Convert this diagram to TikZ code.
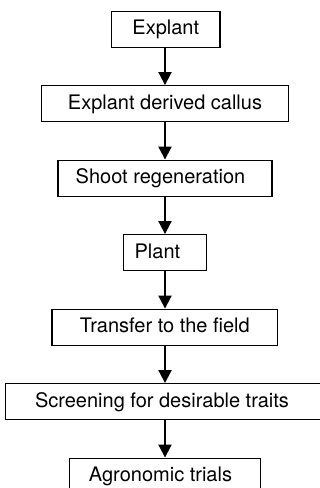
\documentclass[tikz,border=0pt]{standalone}
\usepackage{fontspec}
\setmainfont{TeX Gyre Heros}
\usetikzlibrary{arrows.meta}

\tikzset{
  stage/.style={draw=black, line width=1.3pt, rectangle, inner sep=0pt,
    minimum height=36pt, text height=15.4pt, text depth=4.2pt,
    font=\fontsize{20pt}{24pt}\selectfont},
  flow/.style={line width=2pt, -{Triangle[width=13pt,length=13pt]}},
}

\begin{document}
\begin{tikzpicture}[x=1pt,y=-1pt]
  \useasboundingbox (0,0) rectangle (320,488);
  \clip (0,0) rectangle (320,488);

  % stages of the regeneration scheme, top to bottom
  \node[stage, minimum width=108.3pt] (explant)   at (165.8,29.2)  {Explant};
  \node[stage, minimum width=247pt]   (callus)    at (165,103.7)   {Explant derived callus};
  \node[stage, minimum width=214pt]   (shoot)     at (165,178.2)   {Shoot regeneration\hspace*{9pt}};
  \node[stage, minimum width=82.8pt]  (plant)     at (164.9,252.7) {Plant\hspace*{15pt}};
  \node[stage, minimum width=225.7pt] (field)     at (164.85,327.2){Transfer to the field};
  \node[stage, minimum width=318.6pt] (screening) at (165,401.7)   {Screening for desirable traits\hspace*{6pt}};
  \node[stage, minimum width=191.4pt] (trials)    at (165,476.2)   {Agronomic trials\hspace*{9pt}};

  % downward arrows between consecutive stages
  \draw[flow] (callus.north |- explant.south) -- (callus.north);
  \draw[flow] (callus.south) -- (callus.south |- shoot.north);
  \draw[flow] (callus.south |- shoot.south) -- (callus.south |- plant.north);
  \draw[flow] (callus.south |- plant.south) -- (callus.south |- field.north);
  \draw[flow] (callus.south |- field.south) -- (callus.south |- screening.north);
  \draw[flow] (callus.south |- screening.south) -- (callus.south |- trials.north);
\end{tikzpicture}
\end{document}
